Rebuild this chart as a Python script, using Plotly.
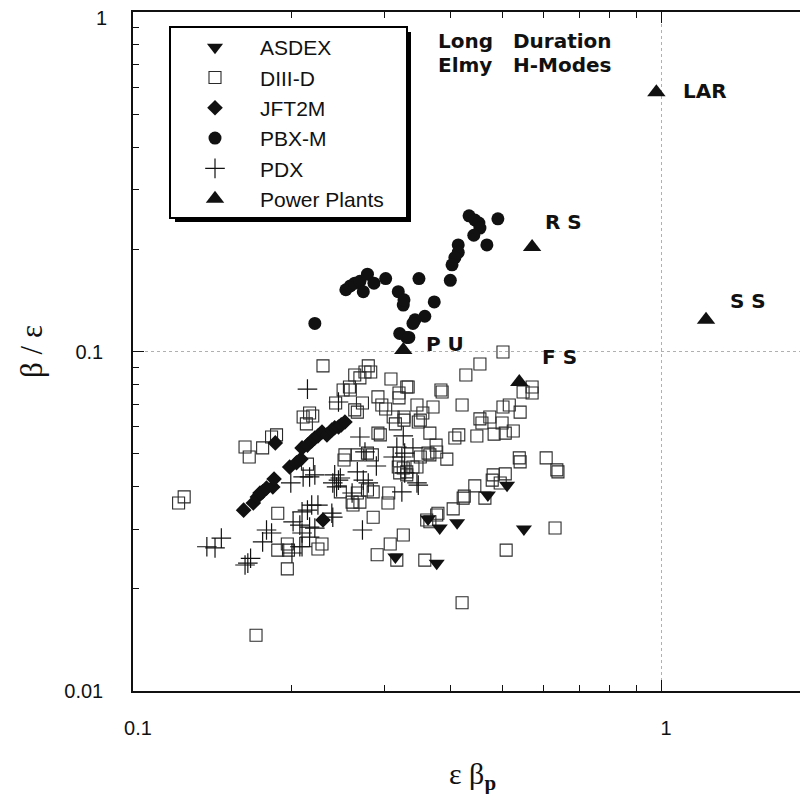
import numpy as np
import plotly.graph_objects as go

# ---------------- data ----------------
asdex_x = [0.362, 0.381, 0.411, 0.470, 0.511, 0.550, 0.376, 0.314]
asdex_y = [0.0321, 0.0302, 0.0313, 0.0378, 0.0404, 0.0300, 0.0238, 0.0248]

diiid_x = [0.229, 0.279, 0.275, 0.282, 0.263, 0.269, 0.257, 0.250, 0.258, 0.308,
           0.332, 0.319, 0.319, 0.242, 0.272, 0.263, 0.266, 0.291, 0.296, 0.301,
           0.311, 0.314, 0.326, 0.326, 0.345, 0.347, 0.216, 0.219, 0.210, 0.213,
           0.187, 0.183, 0.163, 0.176, 0.166, 0.291, 0.294, 0.214, 0.252, 0.251,
           0.266, 0.278, 0.284, 0.318, 0.320, 0.330, 0.330, 0.345, 0.350, 0.362,
           0.247, 0.266, 0.278, 0.285, 0.260, 0.261, 0.269, 0.305, 0.304, 0.122,
           0.125, 0.188, 0.285, 0.325, 0.307, 0.290, 0.316, 0.188, 0.196, 0.197,
           0.228, 0.224, 0.196, 0.357, 0.360, 0.171,
           0.502, 0.454, 0.427, 0.330, 0.383, 0.385, 0.570, 0.548, 0.570, 0.516,
           0.502, 0.541, 0.420, 0.370, 0.354, 0.350, 0.454, 0.474, 0.458, 0.500,
           0.525, 0.507, 0.483, 0.448, 0.414, 0.407, 0.365, 0.375, 0.376, 0.365,
           0.393, 0.539, 0.541, 0.606, 0.635, 0.638, 0.507, 0.481, 0.479, 0.496,
           0.444, 0.424, 0.422, 0.464, 0.404, 0.378, 0.376, 0.365, 0.630, 0.509,
           0.325, 0.339, 0.420]
diiid_y = [0.0907, 0.0907, 0.0870, 0.0870, 0.0853, 0.0836, 0.0786, 0.0770, 0.0770, 0.0830,
           0.0786, 0.0755, 0.0730, 0.0705, 0.0705, 0.0673, 0.0663, 0.0735, 0.0696, 0.0677,
           0.0641, 0.0612, 0.0641, 0.0628, 0.0696, 0.0620, 0.0659, 0.0646, 0.0641, 0.0612,
           0.0568, 0.0560, 0.0523, 0.0520, 0.0489, 0.0575, 0.0568, 0.0466, 0.0496, 0.0479,
           0.0496, 0.0502, 0.0496, 0.0457, 0.0439, 0.0442, 0.0433, 0.0457, 0.0489, 0.0502,
           0.0386, 0.0383, 0.0391, 0.0386, 0.0360, 0.0353, 0.0360, 0.0383, 0.0358, 0.0358,
           0.0373, 0.0334, 0.0325, 0.0288, 0.0271, 0.0252, 0.0243, 0.0260, 0.0271, 0.0260,
           0.0271, 0.0262, 0.0229, 0.0243, 0.0319, 0.0146,
           0.0997, 0.0919, 0.0853, 0.0786, 0.0770, 0.0760, 0.0786, 0.0760, 0.0755, 0.0696,
           0.0686, 0.0663, 0.0696, 0.0686, 0.0659, 0.0628, 0.0633, 0.0641, 0.0616, 0.0616,
           0.0583, 0.0575, 0.0571, 0.0564, 0.0568, 0.0556, 0.0575, 0.0530, 0.0506, 0.0496,
           0.0482, 0.0486, 0.0473, 0.0486, 0.0448, 0.0442, 0.0436, 0.0433, 0.0418, 0.0410,
           0.0402, 0.0375, 0.0370, 0.0370, 0.0344, 0.0334, 0.0330, 0.0315, 0.0302, 0.0260,
           0.0454, 0.0457, 0.0182]

jft_x = [0.162, 0.169, 0.172, 0.174, 0.176, 0.179, 0.184, 0.185, 0.186, 0.198,
         0.204, 0.208, 0.209, 0.214, 0.218, 0.221, 0.224, 0.228, 0.233, 0.238,
         0.241, 0.245, 0.248, 0.252, 0.229]
jft_y = [0.0341, 0.0358, 0.0373, 0.0383, 0.0386, 0.0396, 0.0399, 0.0421, 0.0538, 0.0457,
         0.0470, 0.0482, 0.0520, 0.0530, 0.0545, 0.0556, 0.0564, 0.0579, 0.0568, 0.0587,
         0.0596, 0.0599, 0.0608, 0.0620, 0.0319]

pbx_x = [0.433, 0.444, 0.452, 0.454, 0.491, 0.442, 0.468, 0.413, 0.413, 0.407,
         0.402, 0.399, 0.348, 0.372, 0.325, 0.357, 0.342, 0.339, 0.330, 0.320,
         0.221, 0.333, 0.253, 0.258, 0.263, 0.269, 0.278, 0.273, 0.286, 0.301,
         0.318, 0.326]
pbx_y = [0.251, 0.244, 0.239, 0.231, 0.246, 0.220, 0.206, 0.206, 0.196, 0.189,
         0.180, 0.162, 0.164, 0.140, 0.137, 0.127, 0.124, 0.121, 0.110, 0.113,
         0.121, 0.110, 0.152, 0.156, 0.159, 0.161, 0.169, 0.150, 0.159, 0.164,
         0.150, 0.142]

pdx_x = [0.214, 0.245, 0.269, 0.325, 0.316, 0.339, 0.327, 0.311, 0.289, 0.275,
         0.241, 0.245, 0.239, 0.243, 0.266, 0.273, 0.279, 0.260, 0.323, 0.345,
         0.210, 0.216, 0.221, 0.199, 0.218, 0.224, 0.209, 0.214, 0.238, 0.201,
         0.207, 0.216, 0.221, 0.209, 0.216, 0.179, 0.183, 0.176, 0.272, 0.147,
         0.138, 0.143, 0.165, 0.163, 0.200, 0.207, 0.323, 0.347, 0.327, 0.247,
         0.239, 0.167, 0.209]
pdx_y = [0.0775, 0.0710, 0.0560, 0.0564, 0.0523, 0.0520, 0.0502, 0.0489, 0.0460, 0.0506,
         0.0433, 0.0418, 0.0410, 0.0399, 0.0442, 0.0418, 0.0410, 0.0383, 0.0386, 0.0410,
         0.0427, 0.0427, 0.0433, 0.0410, 0.0353, 0.0353, 0.0337, 0.0341, 0.0334, 0.0315,
         0.0308, 0.0304, 0.0302, 0.0292, 0.0284, 0.0298, 0.0292, 0.0275, 0.0298, 0.0282,
         0.0266, 0.0264, 0.0238, 0.0235, 0.0255, 0.0266, 0.0489, 0.0404, 0.0439, 0.0424,
         0.0325, 0.0246, 0.0266]

pp_x = [0.98, 0.570, 1.217, 0.325, 0.539]
pp_y = [0.58, 0.203, 0.124, 0.101, 0.0813]
pp_labels = ["LAR", "R S", "S S", "P U", "F S"]

x_tick_vals = [0.1, 1]
x_tick_text = ["0.1", "1"]
y_tick_vals = [0.01, 0.1]
y_tick_text = ["0.01", "0.1"]
y_top_label = "1"
x_minor = [0.2, 0.3, 0.4, 0.5, 0.6, 0.7, 0.8, 0.9, 2]
y_minor = [0.02, 0.03, 0.04, 0.05, 0.06, 0.07, 0.08, 0.09,
           0.2, 0.3, 0.4, 0.5, 0.6, 0.7, 0.8, 0.9]

# ---------------- figure ----------------
# the page body has an 8 px margin, so the figure is laid out 8 px up/left
OFF = 8
W, H = 800, 786
ML, MR, MT, MB = 125, 0, 4, 103
PW, PH = W - ML - MR, H - MT - MB   # 675 x 679


def px(xp):
    """reference screen x -> paper x"""
    return (xp - OFF - ML) / PW


def py(yp):
    """reference screen y -> paper y"""
    return 1 - (yp - OFF - MT) / PH


SANS = "Liberation Sans, Arial, Helvetica, sans-serif"
BOLD = "DejaVu Sans, Liberation Sans, sans-serif"
SERIF = "Liberation Serif, Times New Roman, serif"
INK = "#111111"

fig = go.Figure()

fig.add_trace(go.Scatter(
    x=diiid_x, y=diiid_y, mode="markers", name="DIII-D", legendrank=2,
    marker=dict(symbol="square-open", size=12, color="#2a2a2a", line=dict(width=1.1))))
fig.add_trace(go.Scatter(
    x=pdx_x, y=pdx_y, mode="markers", name="PDX", legendrank=5,
    marker=dict(symbol="cross-thin-open", size=14, color=INK, line=dict(width=1.2, color=INK))))
fig.add_trace(go.Scatter(
    x=jft_x, y=jft_y, mode="markers", name="JFT2M", legendrank=3,
    marker=dict(symbol="diamond", size=12, color=INK)))
fig.add_trace(go.Scatter(
    x=pbx_x, y=pbx_y, mode="markers", name="PBX-M", legendrank=4,
    marker=dict(symbol="circle", size=13, color=INK)))
fig.add_trace(go.Scatter(
    x=asdex_x, y=asdex_y, mode="markers", name="ASDEX", legendrank=1,
    marker=dict(symbol="triangle-down", size=14, color=INK)))
fig.add_trace(go.Scatter(
    x=pp_x, y=pp_y, mode="markers", name="Power Plants", legendrank=6,
    marker=dict(symbol="triangle-up", size=16, color=INK)))

# legend frame with drop shadow
lx0, lx1, ly0, ly1 = 170, 407, 27, 218
shapes = [
    dict(type="rect", xref="paper", yref="paper", x0=px(lx0 + 5), x1=px(lx1 + 4),
         y0=py(ly1 + 4), y1=py(ly0 + 5), fillcolor="black", line=dict(width=0), layer="above"),
    dict(type="rect", xref="paper", yref="paper", x0=px(lx0), x1=px(lx1),
         y0=py(ly1), y1=py(ly0), fillcolor="white", line=dict(color="black", width=2), layer="above"),
]

annotations = []
# header text
for txt, xx, yy in [("Long", 437, 41), ("Duration", 512, 41), ("Elmy", 437, 65), ("H-Modes", 512, 65)]:
    annotations.append(dict(text=txt, xref="paper", yref="paper", x=px(xx), y=py(yy),
                            xanchor="left", yanchor="middle", showarrow=False, borderpad=0,
                            font=dict(family=BOLD, size=20, color=INK, weight="bold")))
# power plant labels
shifts = [(25, 1), (11, 25), (22, 19), (21, 6), (21, 25)]
for lab, xv, yv, (sx, sy) in zip(pp_labels, pp_x, pp_y, shifts):
    annotations.append(dict(text=lab, x=np.log10(xv), y=np.log10(yv), xref="x", yref="y",
                            xanchor="left", yanchor="middle", xshift=sx, yshift=sy,
                            showarrow=False,
                            font=dict(family=BOLD, size=20, color=INK, weight="bold")))
# top y tick label (kept inside the page)
annotations.append(dict(text=y_top_label, xref="paper", yref="paper", x=px(108), y=py(18),
                        xanchor="right", yanchor="middle", showarrow=False, borderpad=0,
                        font=dict(family=SANS, size=20, color=INK)))
# axis titles
annotations.append(dict(text="β\u00a0/\u00a0ε", xref="paper", yref="paper", x=px(31), y=py(352),
                        textangle=-90, showarrow=False, xanchor="center", yanchor="middle",
                        font=dict(family=SERIF, size=31, color=INK)))
annotations.append(dict(text="ε β<sub><b>p</b></sub>", xref="paper", yref="paper",
                        x=px(473), y=py(776), showarrow=False, xanchor="center", yanchor="middle",
                        font=dict(family=SERIF, size=30, color=INK)))

axis_common = dict(
    type="log", tickmode="array",
    ticks="inside", ticklen=11, tickwidth=1.2, tickcolor=INK,
    showline=True, linecolor=INK, linewidth=1.5,
    showgrid=True, gridcolor="#b0b0b0", griddash="dot", gridwidth=1,
    zeroline=False, tickfont=dict(family=SANS, size=20, color=INK),
)

fig.update_layout(
    width=W, height=H,
    margin=dict(l=ML, r=MR, t=MT, b=MB),
    paper_bgcolor="white", plot_bgcolor="white",
    font=dict(family=SANS, color=INK),
    showlegend=True,
    legend=dict(x=px(lx0), y=py(ly0), xanchor="left", yanchor="top",
                bgcolor="rgba(0,0,0,0)", borderwidth=0,
                font=dict(family=SANS, size=21, color=INK),
                itemwidth=80, traceorder="normal"),
    shapes=shapes,
    annotations=annotations,
    xaxis=dict(**axis_common, range=[-1, -1 + PW / 528],
               tickvals=x_tick_vals, ticktext=x_tick_text, mirror="ticks",
               ticklabelstandoff=18, ticklabelshift=5,
               minor=dict(tickmode="array", tickvals=x_minor, ticks="inside", ticklen=6,
                          tickwidth=1, tickcolor=INK, showgrid=False)),
    yaxis=dict(**axis_common, range=[-2, 0],
               tickvals=y_tick_vals, ticktext=y_tick_text, mirror=False,
               ticklabelstandoff=24,
               minor=dict(tickmode="array", tickvals=y_minor, ticks="inside", ticklen=6,
                          tickwidth=1, tickcolor=INK, showgrid=False)),
)

fig.write_html("out.html")
